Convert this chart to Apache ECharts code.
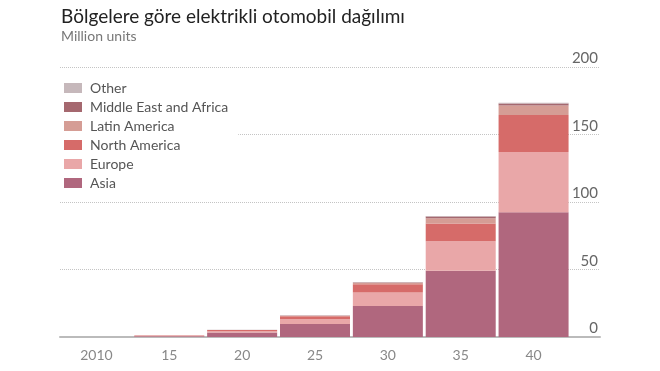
<!DOCTYPE html>
<html>
<head>
<meta charset="utf-8">
<script src="https://cdn.jsdelivr.net/npm/echarts@6/dist/echarts.min.js"></script>
<style>html,body{margin:0;padding:0;background:#fff;}#chart{width:660px;height:371px;}</style>
</head>
<body>
<div id="chart"></div>
<script>
var categories = ['2010', '15', '20', '25', '30', '35', '40'];
var asia = [0.02, 0.5, 3.4, 9.6, 23, 49, 92.5];
var europe = [0.01, 0.3, 0.8, 3.5, 10, 22, 44.5];
var northAmerica = [0.01, 0.3, 0.9, 2.3, 6, 13, 27.5];
var latinAmerica = [0, 0.05, 0.1, 0.4, 1, 4, 7];
var middleEastAfrica = [0, 0.02, 0.05, 0.2, 0.4, 1.2, 1.5];
var other = [0, 0.01, 0.05, 0.1, 0.2, 0.4, 0.5];
var yTicks = [0, 50, 100, 150, 200];

var FONT = 'Lato, "Open Sans", sans-serif';
var seriesDefs = [
  {name: 'Asia', data: asia, color: '#b0677e'},
  {name: 'Europe', data: europe, color: '#e9a7a8'},
  {name: 'North America', data: northAmerica, color: '#d66b69'},
  {name: 'Latin America', data: latinAmerica, color: '#d59d95'},
  {name: 'Middle East and Africa', data: middleEastAfrica, color: '#a5686f'},
  {name: 'Other', data: other, color: '#c6b8bb'}
];

var chart = echarts.init(document.getElementById('chart'), null, {renderer: 'canvas'});
var option = {
  backgroundColor: '#fff',
  animation: false,
  textStyle: {fontFamily: FONT},
  title: {
    text: 'Bölgelere göre elektrikli otomobil dağılımı',
    subtext: 'Million units',
    left: 56, top: 2,
    itemGap: 3,
    textStyle: {fontFamily: FONT, fontSize: 19, fontWeight: 'normal', color: '#222'},
    subtextStyle: {fontFamily: FONT, fontSize: 14, color: '#777'}
  },
  legend: {
    orient: 'vertical',
    left: 60, top: 73,
    padding: [8, 10, 8, 4],
    backgroundColor: '#fff',
    itemWidth: 18, itemHeight: 10, itemGap: 5,
    icon: 'rect',
    z: 10,
    data: ['Other', 'Middle East and Africa', 'Latin America', 'North America', 'Europe', 'Asia'],
    textStyle: {fontFamily: FONT, fontSize: 14, color: '#555', lineHeight: 14, padding: [0, 0, 0, 3]}
  },
  grid: [
    {left: 60, right: 90, top: 67, bottom: 34},
    {left: 60, right: 60, top: 67, bottom: 34}
  ],
  xAxis: [
    {
      type: 'category', gridIndex: 0, data: categories,
      axisLine: {show: false}, axisTick: {show: false},
      axisLabel: {fontFamily: FONT, fontSize: 14, color: '#888', margin: 11}
    },
    {
      type: 'value', gridIndex: 1, min: 0, max: 1,
      axisLine: {show: true, lineStyle: {color: '#bbb', width: 2}},
      axisTick: {show: false}, axisLabel: {show: false}, splitLine: {show: false}
    }
  ],
  yAxis: [
    {
      type: 'value', gridIndex: 0, min: 0, max: 200, interval: 50,
      axisLine: {show: false}, axisTick: {show: false}, axisLabel: {show: false}, splitLine: {show: false}
    },
    {
      type: 'value', gridIndex: 1, min: yTicks[0], max: yTicks[yTicks.length - 1], interval: 50,
      position: 'right',
      axisLine: {show: false}, axisTick: {show: false},
      axisLabel: {inside: true, margin: 2, verticalAlign: 'bottom', align: 'right',
        fontFamily: FONT, fontSize: 15, color: '#666', padding: [0, 0, 1, 0]},
      splitLine: {show: true, lineStyle: {color: '#c4c4c4', type: [1, 1], width: 1}}
    }
  ],
  series: seriesDefs.map(function (s) {
    return {
      name: s.name, type: 'bar', stack: 'total',
      xAxisIndex: 0, yAxisIndex: 0,
      barWidth: 70,
      data: s.data,
      itemStyle: {color: s.color},
      z: 3
    };
  })
};
chart.setOption(option);
</script>
</body>
</html>
